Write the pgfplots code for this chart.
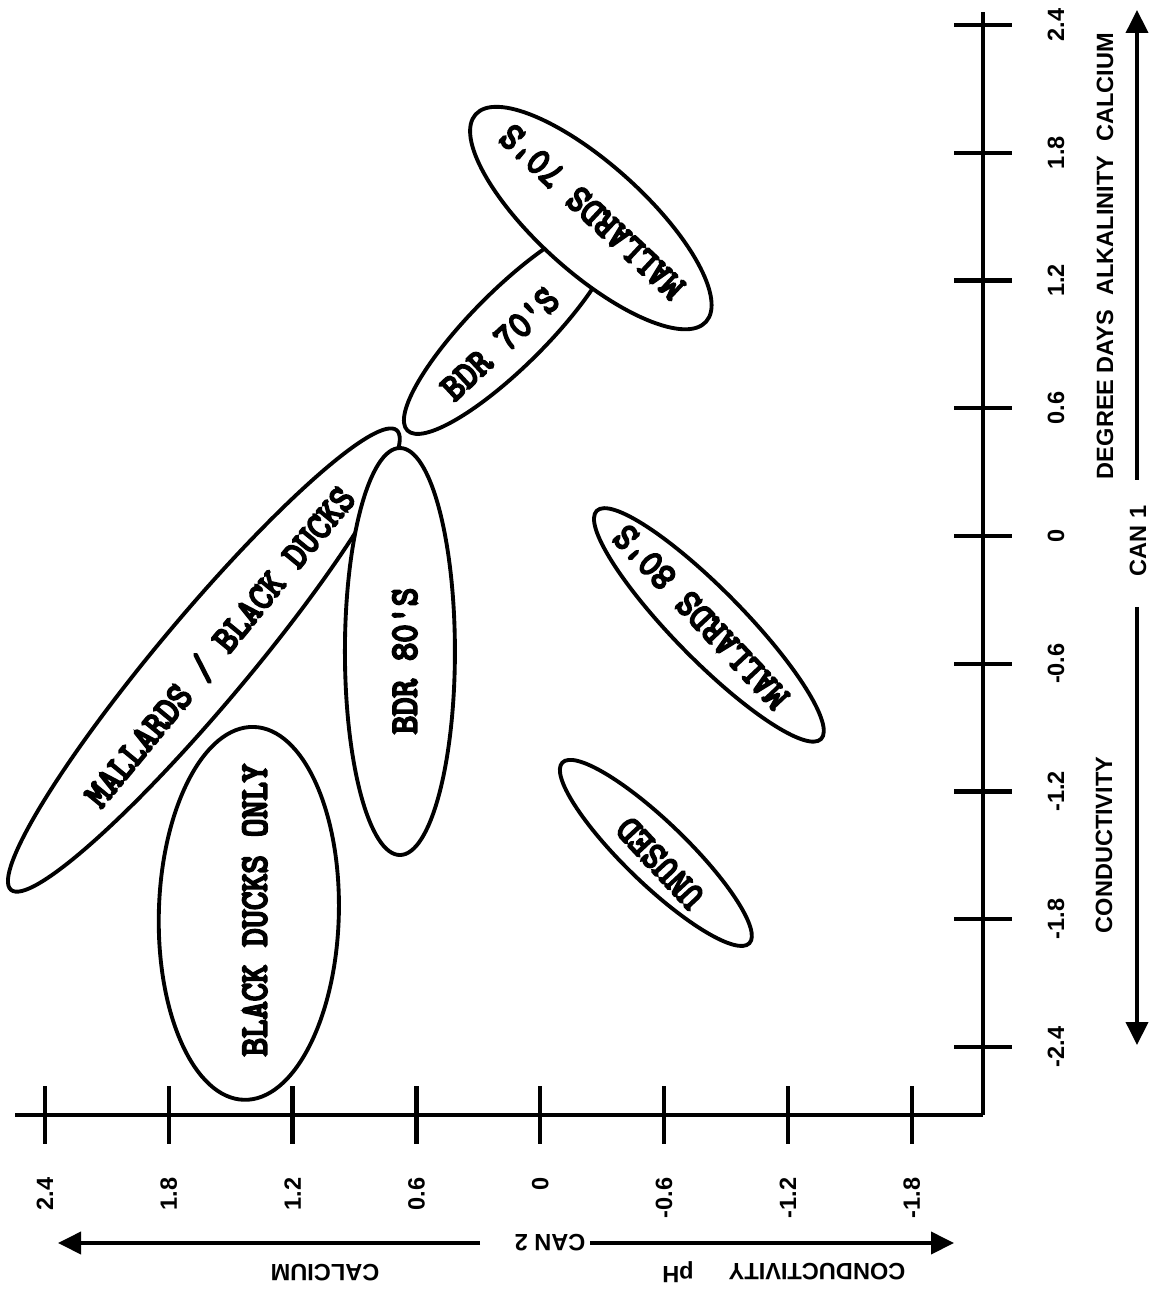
\documentclass[border=0pt]{standalone}
\usepackage{fontspec}
\setmainfont{Liberation Sans}
\newfontfamily\typefont[FakeBold=6]{Latin Modern Mono}
\usepackage{graphicx}
\usepackage{pgfplots}
\pgfplotsset{compat=1.18}
\usetikzlibrary{arrows.meta}
\newcommand{\lab}{\fontsize{6.7}{8}\selectfont\bfseries}
\newcommand{\elab}[1]{\scalebox{1}[1.1]{\typefont\fontsize{9.9}{11}\selectfont #1}}
\begin{document}
\begin{tikzpicture}
\useasboundingbox (0,0) rectangle (115.4mm,129.3mm);
\begin{axis}[
  at={(49.9mm,17.8mm)}, anchor=south,
  width=96.8mm, height=110.3mm, scale only axis,
  xmin=-2.145, xmax=2.545, ymin=-2.720, ymax=2.461,
  x dir=reverse,
  axis x line=bottom, axis y line=right,
  axis line style={line width=1.1pt,-},
  every outer x axis line/.append style={-},
  every outer y axis line/.append style={-},
  xtick={-1.8,-1.2,-0.6,0,0.6,1.2,1.8,2.4},
  xticklabels={-1.8,-1.2,-0.6,0,0.6,1.2,1.8,2.4},
  ytick={-2.4,-1.8,-1.2,-0.6,0,0.6,1.2,1.8,2.4},
  yticklabels={-2.4,-1.8,-1.2,-0.6,0,0.6,1.2,1.8,2.4},
  tick align=center, major tick length=5.8mm,
  tick style={line width=1.2pt,black},
  xticklabel style={rotate=90,anchor=east,inner sep=0pt,font=\lab},
  yticklabel style={rotate=90,anchor=north,inner sep=0pt,font=\lab},
  xticklabel shift=3.3mm,
  yticklabel shift=3.5mm,
  clip=false,
]
% ellipses (centre CAN2, CAN1; radii; angle)
\draw[line width=1.1pt, rotate around={45:(axis cs:0.147,0.977)}] (axis cs:0.147,0.977) ellipse [x radius=14.5mm, y radius=3.8mm];
\draw[line width=1.1pt, fill=white, rotate around={-42:(axis cs:-0.245,1.493)}] (axis cs:-0.245,1.493) ellipse [x radius=15.5mm, y radius=5.4mm];
\draw[line width=1.1pt, rotate around={50:(axis cs:1.630,-0.583)}] (axis cs:1.630,-0.583) ellipse [x radius=30mm, y radius=4.5mm];
\draw[line width=1.1pt, fill=white] (axis cs:0.680,-0.543) ellipse [x radius=5.5mm, y radius=20.35mm];
\draw[line width=1.1pt, rotate around={-1.5:(axis cs:1.412,-1.773)}] (axis cs:1.412,-1.773) ellipse [x radius=9.0mm, y radius=18.65mm];
\draw[line width=1.1pt, rotate around={-45.5:(axis cs:-0.817,-0.418)}] (axis cs:-0.817,-0.418) ellipse [x radius=16mm, y radius=3.5mm];
\draw[line width=1.1pt, rotate around={-44:(axis cs:-0.560,-1.489)}] (axis cs:-0.560,-1.489) ellipse [x radius=13mm, y radius=3.1mm];
% labels
\node[rotate=137] at (axis cs:-0.250,1.522) {\elab{MALLARDS 70'S}};
\node[rotate=43] at (axis cs:0.196,0.902) {\elab{BDR 70'S}};
\node[rotate=50.5] at (axis cs:1.552,-0.522) {\elab{MALLARDS / BLACK DUCKS}};
\node[rotate=90] at (axis cs:0.656,-0.587) {\elab{BDR 80'S}};
\node[rotate=90] at (axis cs:1.383,-1.757) {\elab{BLACK DUCKS ONLY}};
\node[rotate=133.3] at (axis cs:-0.778,-0.381) {\elab{MALLARDS 80'S}};
\node[rotate=133] at (axis cs:-0.580,-1.536) {\elab{UNUSED}};
\end{axis}
\begin{scope}[shift={(0,129.3mm)}, x=0.1mm, y=-0.1mm]
  \draw[line width=1.1pt,-{Triangle[width=2.2mm,length=2.3mm]}] (1137,480) -- (1137,10);
  \draw[line width=1.1pt,-{Triangle[width=2.2mm,length=2.3mm]}] (1137,607) -- (1137,1045);
  \node[rotate=90,font=\lab] at (1138,541) {CAN 1};
  \node[rotate=90,font=\lab] at (1105,256) {DEGREE DAYS\hspace{0.6em}ALKALINITY\hspace{0.6em}CALCIUM};
  \node[rotate=90,font=\lab] at (1104,845) {CONDUCTIVITY};
  \draw[line width=1.1pt,-{Triangle[width=2.2mm,length=2.3mm]}] (480,1243) -- (58,1243);
  \draw[line width=1.1pt,-{Triangle[width=2.2mm,length=2.3mm]}] (590,1243) -- (954,1243);
  \node[rotate=180,font=\lab] at (550,1243) {CAN 2};
  \node[rotate=180,font=\lab] at (325,1273) {CALCIUM};
  \node[rotate=180,font=\lab] at (678,1272) {pH};
  \node[rotate=180,font=\lab] at (817,1272) {CONDUCTIVITY};
\end{scope}
\end{tikzpicture}
\end{document}
